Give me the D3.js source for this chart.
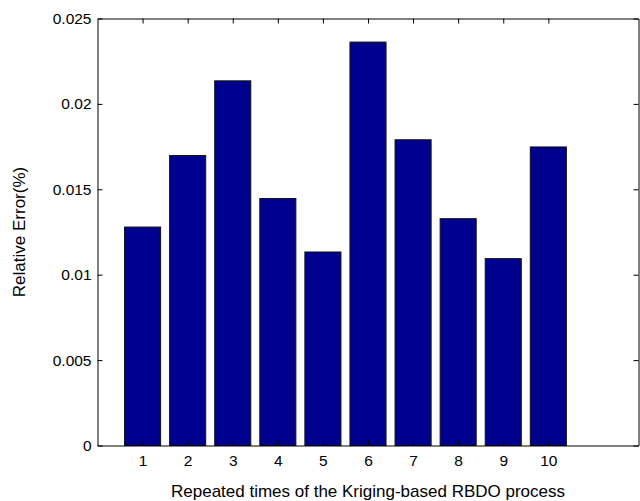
<!DOCTYPE html>
<meta charset="utf-8">
<script src="https://d3js.org/d3.v7.min.js"></script>
<style>
  body { margin: 0; background: #fff; }
  svg { display: block; font-family: "Liberation Sans", Arial, sans-serif; }
</style>
<body>
<svg id="chart" width="640" height="501"></svg>
<script>
"use strict"

// data
var runs = [1, 2, 3, 4, 5, 6, 7, 8, 9, 10]
var errors = [0.01279, 0.01698, 0.02135, 0.01446, 0.01133, 0.02362, 0.0179, 0.01328, 0.01094, 0.01748]
var yTicks = [0, 0.005, 0.01, 0.015, 0.02, 0.025]
var yTickLabels = ["0", "0.005", "0.01", "0.015", "0.02", "0.025"]

var plotLeft = 97.5, plotRight = 638.5, plotTop = 18.5, plotBottom = 445.5

var svg = d3.select("#chart")

var x = d3.scaleLinear().domain([0, 12]).range([plotLeft, plotRight])
var y = d3.scaleLinear().domain([0, 0.025]).range([plotBottom, plotTop])
var barW = (x(1) - x(0)) * 0.8

// bars
svg.selectAll("rect.bar")
    .data(errors)
  .enter().append("rect")
    .attr("class", "bar")
    .attr("x", function(d, i) { return x(runs[i]) - barW / 2 })
    .attr("y", function(d) { return y(d) })
    .attr("width", barW)
    .attr("height", function(d) { return y(0) - y(d) })
    .attr("fill", "#00008f")
    .attr("stroke", "#111")
    .attr("stroke-width", 1)

// axes, MATLAB style ticks inside
var fmt = function(d) { return yTickLabels[yTicks.indexOf(d)] }

svg.append("g")
    .attr("transform", "translate(0," + plotBottom + ")")
    .call(d3.axisBottom(x).tickValues(runs).tickSizeInner(-5).tickSizeOuter(0).tickPadding(9))
svg.append("g")
    .attr("transform", "translate(0," + plotTop + ")")
    .call(d3.axisTop(x).tickValues(runs).tickSizeInner(-5).tickSizeOuter(0).tickFormat(""))
svg.append("g")
    .attr("transform", "translate(" + plotLeft + ",0)")
    .call(d3.axisLeft(y).tickValues(yTicks).tickFormat(fmt).tickSizeInner(-5).tickSizeOuter(0).tickPadding(6))
svg.append("g")
    .attr("transform", "translate(" + plotRight + ",0)")
    .call(d3.axisRight(y).tickValues(yTicks).tickSizeInner(-5).tickSizeOuter(0).tickFormat(""))

svg.selectAll(".domain").attr("stroke", "#000").attr("stroke-width", 1)
svg.selectAll(".tick line").attr("stroke", "#000")
svg.selectAll(".tick text")
    .attr("fill", "#000")
    .style("font-size", "15.5px")
    .style("font-family", "Liberation Sans, Arial, sans-serif")

// labels
svg.append("text")
    .attr("x", (plotLeft + plotRight) / 2)
    .attr("y", 497)
    .attr("text-anchor", "middle")
    .style("font-size", "17px")
    .text("Repeated times of the Kriging-based RBDO process")

svg.append("text")
    .attr("transform", "translate(25," + ((plotTop + plotBottom) / 2) + ") rotate(-90)")
    .attr("text-anchor", "middle")
    .style("font-size", "17px")
    .text("Relative Error(%)")
</script>
